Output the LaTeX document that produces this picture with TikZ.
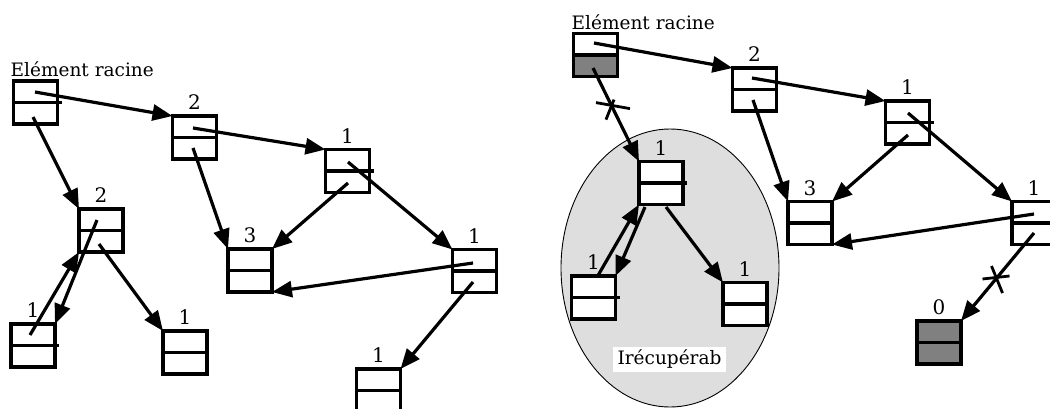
\documentclass[tikz,border=0pt]{standalone}
\usepackage{fontspec}
\setmainfont{DejaVu Serif}
\usetikzlibrary{arrows.meta,calc}
\definecolor{boxgray}{HTML}{808080}
\definecolor{zonegray}{HTML}{DEDEDE}
\begin{document}
\begin{tikzpicture}[x=1pt,y=-1pt,
  cell/.style={draw, line width=3.1pt, fill=white, minimum width=44pt, minimum height=43pt, inner sep=0pt, outer sep=0pt},
  edge/.style={line width=3.1pt},
  ptr/.style={line width=3.2pt, -{Triangle[length=20pt,width=16pt]}},
  num/.style={anchor=base, inner sep=0pt, font=\fontsize{20pt}{22pt}\selectfont},
  ttl/.style={anchor=base west, inner sep=0pt, font=\fontsize{18.5pt}{21pt}\selectfont},
  xmark/.style={line width=2.8pt},
  zone/.style={draw=black, line width=0.9pt, fill=zonegray}]
\useasboundingbox (0,0) rectangle (1050,408);
\clip (0,0) rectangle (1050,408);

% ---------------- left graph ----------------
\node[cell] (rootL) at (35.5,102.5) {};
\node[cell] (L2a) at (194.5,137.5) {};
\node[cell] (L2b) at (101,230.5) {};
\node[cell] (L1a) at (347.5,171) {};
\node[cell] (L3) at (250,270.5) {};
\node[cell] (L1b) at (474.5,271) {};
\node[cell] (L1c) at (378.5,390.5) {};
\node[cell] (L1d) at (33,345.5) {};
\node[cell] (L1e) at (185,352.5) {};

\foreach \n in {L2a,L2b,L3,L1b,L1c,L1e}{\draw[edge] (\n.west) -- (\n.east);}
\foreach \n in {rootL,L1a,L1d}{\draw[edge] (\n.west) -- ($(\n.east)+(4,0)$);}

\node[ttl] (tL) at ($(rootL.north west)+(-3,-5)$) {Elément racine};
\node[num] (nL2a) at ([yshift=6.5pt]L2a.north) {2};
\node[num] (nL2b) at ([yshift=6.5pt]L2b.north) {2};
\node[num] (nL1a) at ([yshift=6.5pt]L1a.north) {1};
\node[num] (nL3) at ([yshift=6.5pt]L3.north) {3};
\node[num] (nL1b) at ([yshift=6.5pt]L1b.north) {1};
\node[num] (nL1c) at ([yshift=6.5pt]L1c.north) {1};
\node[num] (nL1d) at ([yshift=6.5pt]L1d.north) {1};
\node[num] (nL1e) at ([yshift=6.5pt]L1e.north) {1};

\draw[ptr] ($(rootL.center)+(-0.5,-10.5)$) -- (L2a.north west);
\draw[ptr] ($(rootL.center)+(-2.5,14.5)$) -- (L2b.north west);
\draw[ptr] ($(L2a.center)+(-1.5,-9.5)$) -- (L1a.north west);
\draw[ptr] ($(L2a.center)+(-1.5,10.5)$) -- (L3.north west);
\draw[ptr] ($(L1a.center)+(0.5,-9)$) -- (L1b.north west);
\draw[ptr] ($(L1a.center)+(0.5,12)$) -- (L3.north east);
\draw[ptr] ($(L1b.center)+(-1.5,-8)$) -- (L3.south east);
\draw[ptr] ($(L1b.center)+(-1.5,11)$) -- (L1c.north east);
\draw[ptr] ($(L1d.center)+(-3,-10.5)$) -- (L2b.south west);
\draw[ptr] ($(L2b.center)+(-4,-10.5)$) -- (L1d.north east);
\draw[ptr] ($(L2b.center)+(-2,13.5)$) -- (L1e.north west);

% ---------------- right graph ----------------
\draw[zone] (670,268) ellipse [x radius=109pt, y radius=139pt];
\node[fill=white, minimum width=113pt, minimum height=25pt, inner sep=0pt, font=\fontsize{18.5pt}{21pt}\selectfont] (lost) at (669.5,359.5) {Irécupérab};

\node[cell] (rootR) at (595.5,55) {};
\node[cell] (R2) at (754.5,89.5) {};
\node[cell] (R1a) at (907.5,122.5) {};
\node[cell] (R3) at (810,223) {};
\node[cell] (R1b) at (1034,223) {};
\node[cell, fill=boxgray] (R0) at (939,342.5) {};
\node[cell] (E1) at (661,183) {};
\node[cell] (E1l) at (593.5,297.5) {};
\node[cell] (E1r) at (745,304) {};

\fill[boxgray] (rootR.west) rectangle (rootR.south east);
\draw[edge] (rootR.south west) rectangle (rootR.north east);

\foreach \n in {rootR,R2,R3,R1b,R0,E1r}{\draw[edge] (\n.west) -- (\n.east);}
\foreach \n in {R1a,E1,E1l}{\draw[edge] (\n.west) -- ($(\n.east)+(4,0)$);}

\node[ttl] (tR) at ($(rootR.north west)+(-2,-4)$) {Elément racine};
\node[num] (nR2) at ([yshift=6.5pt]R2.north) {2};
\node[num] (nR1a) at ([yshift=6.5pt]R1a.north) {1};
\node[num] (nR3) at ([yshift=6.5pt]R3.north) {3};
\node[num] (nR1b) at ([yshift=6.5pt]R1b.north) {1};
\node[num] (nR0) at ([yshift=6.5pt]R0.north) {0};
\node[num] (nE1) at ([yshift=6.5pt]E1.north) {1};
\node[num] (nE1l) at ([yshift=6.5pt]E1l.north) {1};
\node[num] (nE1r) at ([yshift=6.5pt]E1r.north) {1};

\draw[ptr] ($(rootR.center)+(-1.5,-12)$) -- (R2.north west);
\draw[ptr] ($(rootR.center)+(-2.5,13)$) -- coordinate[pos=0.413] (cx1) (E1.north west);
\draw[ptr] ($(R2.center)+(-2.5,-11.5)$) -- (R1a.north west);
\draw[ptr] ($(R2.center)+(-1.5,10.5)$) -- (R3.north west);
\draw[ptr] ($(R1a.center)+(0.5,-9.5)$) -- (R1b.north west);
\draw[ptr] ($(R1a.center)+(0.5,12.5)$) -- (R3.north east);
\draw[ptr] ($(R1b.center)+(0,-9)$) -- (R3.south east);
\draw[ptr] ($(R1b.center)+(0,10)$) -- coordinate[pos=0.5] (cx2) (R0.north east);
\draw[ptr] ($(E1l.center)+(4.5,-22)$) -- (E1.south west);
\draw[ptr] ($(E1.center)+(-16,24)$) -- (E1l.north east);
\draw[ptr] ($(E1.center)+(5,24)$) -- (E1r.north west);

% crosses on cut references
\draw[xmark] ($(cx1)+(-16,-4)$) -- ($(cx1)+(18,2)$);
\draw[xmark] ($(cx1)+(2,-7)$) -- ($(cx1)+(-6,13)$);
\draw[xmark] ($(cx2)+(-15,2)$) -- ($(cx2)+(12,-1)$);
\draw[xmark] ($(cx2)+(-6,-11)$) -- ($(cx2)+(5,16)$);
\end{tikzpicture}
\end{document}
